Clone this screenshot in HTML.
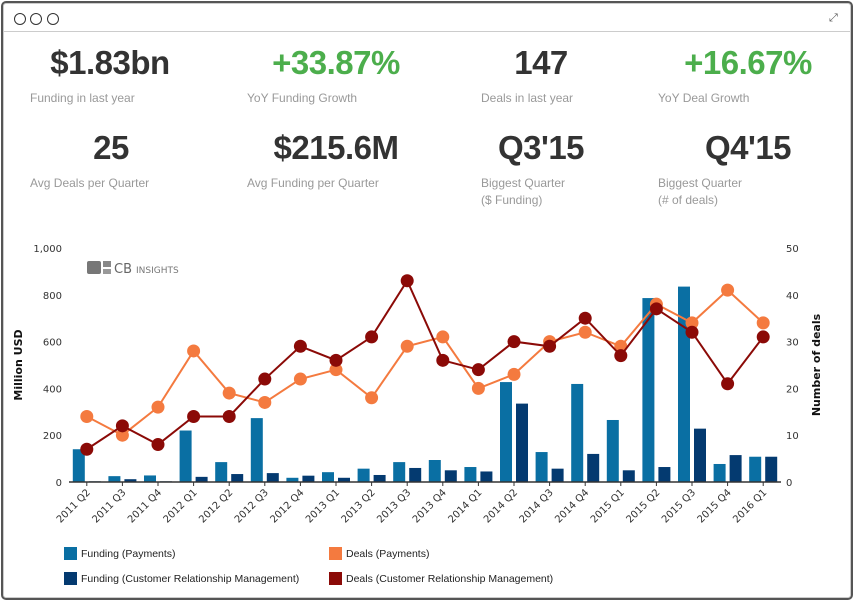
<!DOCTYPE html>
<html><head><meta charset="utf-8"><style>
body{margin:0;width:854px;height:601px;background:#fff;font-family:"Liberation Sans",sans-serif;position:relative;overflow:hidden}
.win{position:absolute;left:1px;top:1px;width:848px;height:595px;border:2px solid #555;border-radius:5px;box-shadow:inset 0 0 0 1px #ccc}
.bar{position:absolute;left:3px;right:3px;top:31px;height:1px;background:#ccc}
.dot{position:absolute;top:13px;width:10px;height:10px;border:1px solid #333;border-radius:50%}
.big{position:absolute;font-weight:bold;font-size:33px;color:#333;transform:translateX(-50%);white-space:nowrap;letter-spacing:-0.5px}
.green{color:#4cae4c}
.lab{position:absolute;font-size:12px;color:#999;line-height:17px}
svg text{font-family:"DejaVu Sans",sans-serif}
</style></head><body>
<div class="win"></div>
<div class="bar"></div>
<div class="dot" style="left:14px"></div>
<div class="dot" style="left:30px"></div>
<div class="dot" style="left:47px"></div>
<div style="position:absolute;left:829px;top:12px;font-size:11px;color:#555">⤢</div>

<div class="big" style="left:110px;top:44px">$1.83bn</div>
<div class="lab" style="left:30px;top:90px">Funding in last year</div>
<div class="big green" style="left:336px;top:44px">+33.87%</div>
<div class="lab" style="left:247px;top:90px">YoY Funding Growth</div>
<div class="big" style="left:541px;top:44px">147</div>
<div class="lab" style="left:481px;top:90px">Deals in last year</div>
<div class="big green" style="left:748px;top:44px">+16.67%</div>
<div class="lab" style="left:658px;top:90px">YoY Deal Growth</div>

<div class="big" style="left:111px;top:129px">25</div>
<div class="lab" style="left:30px;top:175px">Avg Deals per Quarter</div>
<div class="big" style="left:336px;top:129px">$215.6M</div>
<div class="lab" style="left:247px;top:175px">Avg Funding per Quarter</div>
<div class="big" style="left:541px;top:129px">Q3'15</div>
<div class="lab" style="left:481px;top:175px">Biggest Quarter<br>($ Funding)</div>
<div class="big" style="left:748px;top:129px">Q4'15</div>
<div class="lab" style="left:658px;top:175px">Biggest Quarter<br>(# of deals)</div>

<svg id="chart" width="854" height="601" style="position:absolute;left:0;top:0"></svg>

<script>
const categories=["2011 Q2","2011 Q3","2011 Q4","2012 Q1","2012 Q2","2012 Q3","2012 Q4","2013 Q1","2013 Q2","2013 Q3","2013 Q4","2014 Q1","2014 Q2","2014 Q3","2014 Q4","2015 Q1","2015 Q2","2015 Q3","2015 Q4","2016 Q1"];
const fundingPayments=[140,25,28,220,85,273,18,42,57,85,94,64,427,128,419,265,786,835,77,108];
const fundingCRM=[3,12,3,22,34,38,27,18,30,60,50,45,335,57,120,50,64,228,115,108];
const dealsPayments=[14,10,16,28,19,17,22,24,18,29,31,20,23,30,32,29,38,34,41,34];
const dealsCRM=[7,12,8,14,14,22,29,26,31,43,26,24,30,29,35,27,37,32,21,31];
const leftTicks=[0,200,400,600,800,1000];
const rightTicks=[0,10,20,30,40,50];

const NS="http://www.w3.org/2000/svg";
const svg=document.getElementById('chart');
const X0=69,X1=781,Y0=482,Y1=248;
const band=(X1-X0)/categories.length;
const xc=i=>X0+band*(i+0.5);
const yL=v=>Y0-(v/1000)*(Y0-Y1);
const yR=v=>Y0-(v/50)*(Y0-Y1);
function mk(tag,attrs,parent){const e=document.createElementNS(NS,tag);for(const k in attrs)e.setAttribute(k,attrs[k]);(parent||svg).appendChild(e);return e;}

leftTicks.forEach(t=>{const e=mk('text',{x:62,y:yL(t)+4,'text-anchor':'end','font-size':10,fill:'#333'});e.textContent=t.toLocaleString('en-US');

});
rightTicks.forEach(t=>{const e=mk('text',{x:786,y:yR(t)+4,'font-size':10,fill:'#333'});e.textContent=t;

});

let t=mk('text',{x:0,y:0,transform:'translate(22,365) rotate(-90)','text-anchor':'middle','font-size':11,'font-weight':'bold',fill:'#111'});t.textContent='Million USD';

t=mk('text',{x:0,y:0,transform:'translate(820,365) rotate(-90)','text-anchor':'middle','font-size':11,'font-weight':'bold',fill:'#111'});t.textContent='Number of deals';


const lg=mk('g',{});

mk('rect',{x:87,y:261,width:14,height:13,rx:2,fill:'#777'},lg);
mk('rect',{x:103,y:261,width:8,height:6,fill:'#888'},lg);
mk('rect',{x:103,y:269,width:8,height:5,fill:'#999'},lg);
t=mk('text',{x:114,y:273,'font-size':13,fill:'#666'},lg);t.textContent='CB';
t=mk('text',{x:136,y:273,'font-size':9,fill:'#777'},lg);t.textContent='INSIGHTS';

categories.forEach((c,i)=>{
  let b=mk('rect',{x:xc(i)-14,y:yL(fundingPayments[i]),width:12,height:Y0-yL(fundingPayments[i]),fill:'#0a6fa3'});
  
  b=mk('rect',{x:xc(i)+2,y:yL(fundingCRM[i]),width:12,height:Y0-yL(fundingCRM[i]),fill:'#043a70'});
  
  mk('line',{x1:xc(i),x2:xc(i),y1:Y0,y2:Y0+4,stroke:'#333'});
  const l=mk('text',{x:0,y:0,transform:`translate(${xc(i)+4},${Y0+11}) rotate(-45)`,'text-anchor':'end','font-size':10,fill:'#333'});l.textContent=c;
  
});
let ax=mk('line',{x1:X0,x2:X1,y1:Y0,y2:Y0,stroke:'#333','stroke-width':1.5});


function series(vals,color,name){
  const p=mk('polyline',{points:vals.map((v,i)=>xc(i)+','+yR(v)).join(' '),fill:'none',stroke:color,'stroke-width':2});
  
  vals.forEach((v,i)=>{const c=mk('circle',{cx:xc(i),cy:yR(v),r:6.5,fill:color});
  });
}
series(dealsPayments,'#f47a3f','deals-payments');
series(dealsCRM,'#8b0a07','deals-crm');

const leg=[[64,547,'#0a6fa3','Funding (Payments)'],[329,547,'#f47a3f','Deals (Payments)'],[64,572,'#043a70','Funding (Customer Relationship Management)'],[329,572,'#8b0a07','Deals (Customer Relationship Management)']];
leg.forEach(l=>{const g=mk('g',{});

mk('rect',{x:l[0],y:l[1],width:13,height:13,fill:l[2]},g);
const tx=mk('text',{x:l[0]+17,y:l[1]+10,'font-size':10.5,fill:'#222',style:'font-family:"Liberation Sans",sans-serif'},g);tx.textContent=l[3];});
</script>
</body></html>
